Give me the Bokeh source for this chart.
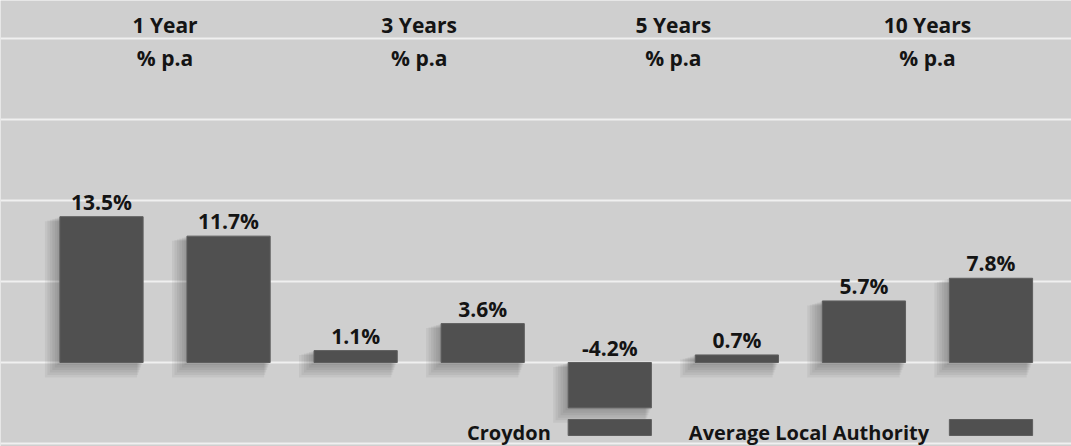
from bokeh.plotting import figure
from bokeh.models import Range1d, ColumnDataSource, FixedTicker
from bokeh.core.properties import value
from bokeh.embed import file_html
from bokeh.resources import INLINE

# Annualised returns, % p.a.
periods = ["1 Year", "3 Years", "5 Years", "10 Years"]
series = ["Croydon", "Average Local Authority"]
croydon = [13.5, 1.1, -4.2, 5.7]
average_la = [11.7, 3.6, 0.7, 7.8]
grid_ticks = [-7.5, 0, 7.5, 15, 22.5, 30]

W, H = 1071, 446
PX_PER_PCT = 10.8      # vertical scale, px per percentage point
ZERO_PX = 362          # pixel row of the 0% line
PX_PER_SLOT = 127.07   # horizontal distance between neighbouring bars
FIRST_PX = 101         # pixel column of the first bar centre
BAR_W = 0.655          # bar width as a fraction of a slot
BG = "#cfcfcf"
BAR = "#505050"
TEXT = "#141414"
FONT = "Open Sans"

# one slot per (period, series) pair, series side by side inside a period
xs, vals = [], []
for gi, (c, a) in enumerate(zip(croydon, average_la)):
    xs += [2 * gi, 2 * gi + 1]
    vals += [c, a]
labels = ["%.1f%%" % v for v in vals]
label_y = [max(v, 0) for v in vals]
group_x = [2 * gi + 0.5 for gi in range(len(periods))]

src = ColumnDataSource(dict(x=xs, top=vals, lab=labels, ly=label_y))


def px_to_y(px):
    return (ZERO_PX - px) / PX_PER_PCT


x0 = -FIRST_PX / PX_PER_SLOT
x1 = (W - FIRST_PX) / PX_PER_SLOT

p = figure(
    width=W, height=H,
    x_range=Range1d(x0, x1), y_range=Range1d(px_to_y(H), px_to_y(0)),
    output_backend="svg", toolbar_location=None,
    min_border=0,
    background_fill_color=BG, border_fill_color=BG, outline_line_color=None,
)
p.xaxis.visible = False
p.yaxis.visible = False
p.xgrid.visible = False
p.ygrid.ticker = FixedTicker(ticks=grid_ticks)
p.ygrid.grid_line_color = "#f0f0f0"
p.ygrid.grid_line_width = 2

# soft print shadow falling down and to the left of each bar
sx = 1 / PX_PER_SLOT
sy = 1 / PX_PER_PCT
for k in range(1, 7):
    d = 2.5 * k
    left = [x - BAR_W / 2 - d * sx for x in xs]
    right = [x + BAR_W / 2 - 0.4 * d * sx for x in xs]
    top = [max(v, 0) - 0.3 * d * sy for v in vals]
    bottom = [min(v, 0) - d * sy for v in vals]
    p.quad(left=left, right=right, top=top, bottom=bottom,
           fill_color="#2a2a2a", fill_alpha=0.06, line_color=None)

p.vbar(x="x", top="top", bottom=0, width=BAR_W, source=src,
       fill_color=BAR, line_color="#5e5e5e", line_width=1)

p.text(x="x", y="ly", text="lab", source=src, text_align="center",
       text_baseline="bottom", y_offset=-1, text_font=value(FONT),
       text_font_style="bold", text_font_size="21px", text_color=TEXT)

# period headings
p.text(x=group_x, y=[px_to_y(24)] * 4, text=periods, text_align="center",
       text_baseline="middle", text_font=value(FONT), text_font_style="bold",
       text_font_size="21px", text_color=TEXT)
p.text(x=group_x, y=[px_to_y(57)] * 4, text=["% p.a"] * 4, text_align="center",
       text_baseline="middle", text_font=value(FONT), text_font_style="bold",
       text_font_size="21px", text_color=TEXT)

# legend: swatches sit under the 5-year Croydon and 10-year average columns
sw_x = [xs[4], xs[7]]
p.rect(x=sw_x, y=[px_to_y(427)] * 2, width=BAR_W, height=16 / PX_PER_PCT,
       fill_color=BAR, line_color="#5e5e5e")
p.text(x=[sw_x[0]], y=[px_to_y(432)], text=[series[0]], text_align="right",
       text_baseline="middle", x_offset=-59, text_font=value(FONT),
       text_font_style="bold", text_font_size="20px", text_color=TEXT)
p.text(x=[xs[5]], y=[px_to_y(432)], text=[series[1]],
       text_align="left", text_baseline="middle", x_offset=-48, text_font=value(FONT),
       text_font_style="bold", text_font_size="20px", text_color=TEXT)

open("out.html", "w").write(file_html(p, INLINE))
